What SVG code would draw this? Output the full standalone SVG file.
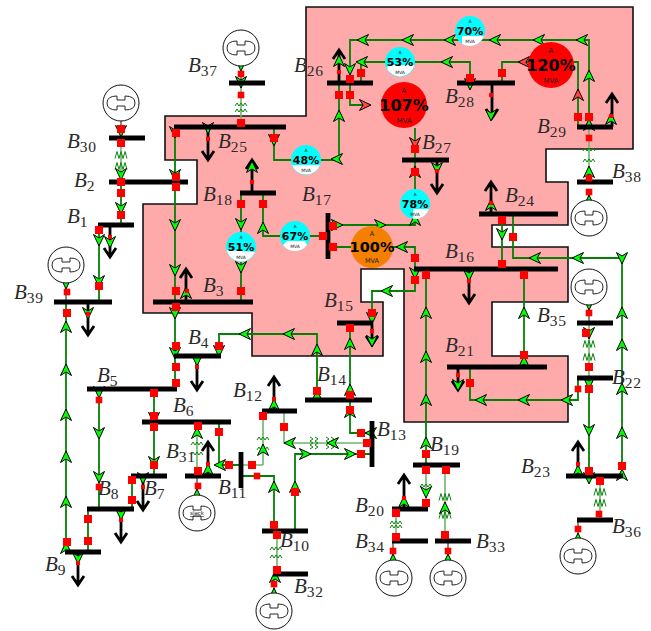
<svg xmlns="http://www.w3.org/2000/svg" width="651" height="631" viewBox="0 0 651 631">
<style>
.region{fill:#ffaaaa;stroke:#111;stroke-width:1.6}
.ln{fill:none;stroke:#058005;stroke-width:1.8}
.lt{fill:none;stroke:#6fb46f;stroke-width:1.6}
.th{fill:none;stroke:#111;stroke-width:1}
.zz{fill:none;stroke:#0a840a;stroke-width:1}
.a{fill:#0f0;stroke:#000;stroke-width:1}
.ra{fill:#f44;stroke:#000;stroke-width:1}
.sq{fill:#f00}
.load{fill:none;stroke:#000;stroke-width:2.8}
.bus{stroke:#000;stroke-width:4.8;fill:none}
.gc{fill:#fff;stroke:#111;stroke-width:1}
.gi{fill:none;stroke:#111;stroke-width:.9}
.lb{font:italic 21px "Liberation Serif",serif;fill:#2a2a2a}
.s{font-size:15.5px;font-style:normal;letter-spacing:.6px}
.p{font-family:"DejaVu Sans",sans-serif;font-weight:bold;text-anchor:middle;fill:#000}
.u{font-family:"DejaVu Sans",sans-serif;text-anchor:middle;fill:#222}
</style>
<defs>
<path id="d" d="M0,6 L-5.5,-5.5 L0,-2 L5.5,-5.5 Z"/>
<path id="u" d="M0,-6 L-5.5,5.5 L0,2 L5.5,5.5 Z"/>
<path id="l" d="M-6,0 L5.5,-5.5 L2,0 L5.5,5.5 Z"/>
<path id="r" d="M6,0 L-5.5,-5.5 L-2,0 L-5.5,5.5 Z"/>
<rect id="s" x="-4" y="-4" width="8" height="8"/>
<rect id="m" x="-3.3" y="-3.3" width="6.6" height="6.6"/>
<rect id="t" x="-2" y="-2" width="4" height="4"/>
<path id="z" d="M-6,2 l2,-3 2,3 2,-3 2,3 2,-3 2,3"/>
<path id="zt" d="M-6,3.5 l2,-7 2,7 2,-7 2,7 2,-7 2,7"/>
<path id="zv" d="M-2,-6 l3,2 -3,2 3,2 -3,2 3,2 -3,2"/>
<g id="gen"><circle class="gc" r="18"/><path class="gi" d="M-4,-7 Q-14,-7 -14,0 Q-14,7 -4,7 L-4,3 H4 L4,7 Q14,7 14,0 Q14,-7 4,-7 L4,-3 H-4 Z"/></g>
</defs>
<path id="area" class="region" d="M306,7H633V149H546V182H568V225H492V247H568V302H492V356H568V422H404V269H361V302H383V356H252V313H143V204H197V160H165V116H306Z"/>
<g id="connectors">
<path class="th" d="M241,66V83M121,121V138M66,283V302M589,192V205M589,305V323M197,476V495M274,574V594M393,541V560M448,541V560M578,520V539"/>
<path class="lt" d="M241,83V127M121,138V182M589,127V182M589,323V378M600,476V520M197,422V476M263,465V411M241,465H263M284,411V443H372M426,465V509M445,465V541M396,509V541M277,531V574"/>
<path class="ln" d="M121,182V225M99,225V302M66,302V552M175,127V356M175,356V389M274,127V160H339V83M350,83V40H589V127M361,83V62H470V83M502,83V62H578V127M350,83V105H367M415,128V190M415,218V225H328M328,247H415V269M328,236H263V193M241,193V302M219,356V334H317V400M99,389V509M154,389V476M132,476V509M88,509V552M219,422V465H241M241,476H274V531M295,531V454H372M350,323V400M350,400V433H372M415,269V291H372V323M426,269V465M524,269V367M502,214V269M513,214V258H622V476M589,378V476M578,378V400H470V367"/>
<g class="zz">
<use href="#z" x="241" y="104"/><use href="#z" x="241" y="110"/>
<use href="#zt" x="121" y="155"/><use href="#zt" x="121" y="166"/>
<use href="#z" x="589" y="149"/><use href="#z" x="589" y="160"/>
<use href="#zt" x="589" y="344"/><use href="#zt" x="589" y="357"/>
<use href="#zt" x="600" y="492"/><use href="#zt" x="600" y="503"/>
<use href="#z" x="197" y="443"/><use href="#z" x="197" y="453"/>
<use href="#z" x="263" y="438"/><use href="#z" x="263" y="448"/>
<use href="#z" x="276" y="548"/><use href="#z" x="276" y="556"/>
<use href="#z" x="426" y="485"/>
<use href="#zt" x="445" y="497"/><use href="#zt" x="445" y="515"/>
<use href="#z" x="396" y="522"/><use href="#z" x="396" y="526"/>
<use href="#zv" x="312" y="443"/><use href="#zv" x="317" y="443"/>
<use href="#zv" x="328" y="443"/><use href="#zv" x="333" y="443"/>
</g>
<path class="load" d="M110,225V257M104,248L110,257L116,248"/>
<path class="load" d="M88,302V335M82,326L88,335L94,326"/>
<path class="load" d="M208,127V160M202,151L208,160L214,151"/>
<path class="load" d="M252,193V160M246,169L252,160L258,169"/>
<path class="load" d="M186,302V269M180,278L186,269L192,278"/>
<path class="load" d="M339,83V50M333,59L339,50L345,59"/>
<path class="load" d="M492,83V118M486,109L492,118L498,109"/>
<path class="load" d="M612,127V94M606,103L612,94L618,103"/>
<path class="load" d="M437,160V193M431,184L437,193L443,184"/>
<path class="load" d="M491,214V182M485,191L491,182L497,191"/>
<path class="load" d="M469,269V303M463,294L469,303L475,294"/>
<path class="load" d="M197,356V390M191,381L197,390L203,381"/>
<path class="load" d="M143,476V510M137,501L143,510L149,501"/>
<path class="load" d="M121,509V542M115,533L121,542L127,533"/>
<path class="load" d="M78,552V585M72,576L78,585L84,576"/>
<path class="load" d="M208,476V442M202,451L208,442L214,451"/>
<path class="load" d="M274,411V377M268,386L274,377L280,386"/>
<path class="load" d="M372,323V345M366,336L372,345L378,336"/>
<path class="load" d="M458,367V390M452,381L458,390L464,381"/>
<path class="load" d="M404,509V475M398,484L404,475L410,484"/>
<path class="load" d="M578,476V442M572,451L578,442L584,451"/>
<g class="a">
<use href="#d" x="241" y="65"/><use href="#d" x="241" y="82"/>
<use href="#d" x="121" y="131"/><use href="#d" x="121" y="174"/><use href="#d" x="121" y="208"/>
<use href="#d" x="99" y="240"/><use href="#d" x="99" y="281"/><use href="#d" x="110" y="242"/>
<use href="#d" x="66" y="283"/><use href="#d" x="88" y="313"/>
<use href="#u" x="66" y="327"/><use href="#u" x="66" y="370"/><use href="#u" x="66" y="415"/><use href="#u" x="66" y="457"/><use href="#u" x="66" y="502"/><use href="#u" x="66" y="548"/>
<use href="#d" x="175" y="175"/><use href="#d" x="175" y="225"/><use href="#d" x="175" y="270"/><use href="#d" x="175" y="313"/><use href="#d" x="175" y="353"/><use href="#d" x="175" y="132"/>
<use href="#d" x="208" y="128"/>
<use href="#d" x="274" y="140"/><use href="#l" x="337" y="159"/><use href="#u" x="339" y="116"/><use href="#u" x="339" y="61"/>
<use href="#l" x="363" y="40"/><use href="#l" x="408" y="40"/><use href="#l" x="450" y="40"/><use href="#l" x="495" y="40"/><use href="#l" x="539" y="40"/><use href="#l" x="582" y="40"/>
<use href="#u" x="589" y="76"/><use href="#u" x="589" y="125"/><use href="#d" x="350" y="69"/>
<use href="#l" x="362" y="62"/><use href="#l" x="447" y="62"/><use href="#d" x="470" y="84"/>
<use href="#d" x="491" y="115"/><use href="#u" x="611" y="119"/>
<use href="#u" x="589" y="172"/><use href="#u" x="589" y="201"/>
<use href="#u" x="415" y="172"/><use href="#d" x="437" y="168"/>
<use href="#u" x="415" y="220"/><use href="#r" x="380" y="225"/><use href="#r" x="337" y="225"/>
<use href="#l" x="402" y="247"/>
<use href="#u" x="263" y="228"/><use href="#d" x="241" y="224"/><use href="#d" x="241" y="267"/>
<use href="#u" x="252" y="167"/><use href="#u" x="186" y="293"/>
<use href="#d" x="197" y="360"/>
<use href="#d" x="219" y="351"/><use href="#l" x="245" y="334"/><use href="#l" x="289" y="334"/><use href="#u" x="317" y="350"/><use href="#u" x="317" y="396"/>
<use href="#d" x="99" y="392"/><use href="#d" x="99" y="433"/><use href="#d" x="99" y="477"/>
<use href="#d" x="154" y="418"/><use href="#d" x="154" y="462"/>
<use href="#d" x="143" y="478"/><use href="#d" x="121" y="514"/><use href="#d" x="78" y="558"/>
<use href="#u" x="197" y="433"/><use href="#u" x="208" y="470"/><use href="#u" x="197" y="495"/>
<use href="#l" x="220" y="465"/><use href="#u" x="263" y="450"/><use href="#u" x="274" y="405"/>
<use href="#u" x="274" y="487"/><use href="#u" x="295" y="487"/><use href="#r" x="305" y="454"/><use href="#r" x="350" y="454"/>
<use href="#l" x="290" y="443"/><use href="#l" x="333" y="443"/>
<use href="#u" x="350" y="412"/><use href="#l" x="371" y="433"/>
<use href="#u" x="350" y="390"/><use href="#u" x="350" y="344"/>
<use href="#d" x="372" y="318"/><use href="#d" x="372" y="341"/>
<use href="#d" x="415" y="273"/><use href="#l" x="387" y="291"/>
<use href="#u" x="426" y="313"/><use href="#u" x="426" y="357"/><use href="#u" x="426" y="400"/><use href="#u" x="426" y="443"/>
<use href="#u" x="524" y="313"/><use href="#u" x="524" y="362"/>
<use href="#d" x="469" y="275"/><use href="#d" x="502" y="234"/><use href="#u" x="491" y="205"/>
<use href="#l" x="535" y="258"/><use href="#l" x="578" y="258"/><use href="#d" x="622" y="258"/>
<use href="#u" x="622" y="313"/><use href="#u" x="622" y="345"/><use href="#u" x="622" y="389"/><use href="#u" x="622" y="433"/><use href="#u" x="622" y="475"/>
<use href="#d" x="589" y="304"/><use href="#d" x="589" y="333"/><use href="#d" x="589" y="430"/><use href="#d" x="589" y="478"/><use href="#d" x="589" y="383"/>
<use href="#u" x="578" y="539"/><use href="#u" x="578" y="471"/>
<use href="#l" x="567" y="400"/><use href="#l" x="524" y="400"/><use href="#l" x="481" y="400"/>
<use href="#d" x="458" y="385"/>
<use href="#d" x="426" y="492"/><use href="#u" x="445" y="508"/>
<use href="#u" x="404" y="502"/><use href="#u" x="393" y="560"/><use href="#u" x="448" y="560"/>
<use href="#u" x="274" y="594"/><use href="#u" x="275" y="577"/>
</g>
<g class="ra">
<use href="#l" x="524" y="62"/><use href="#u" x="578" y="95"/>
<use href="#r" x="365" y="105"/><use href="#d" x="415" y="143"/>
</g>
</g>
<g id="B37"><path class="bus" d="M229,83H265"/><text class="lb" x="188" y="72">B<tspan class="s" dy="4">37</tspan></text></g>
<g id="B30"><path class="bus" d="M109,138H145"/><text class="lb" x="67" y="148">B<tspan class="s" dy="4">30</tspan></text></g>
<g id="B2"><path class="bus" d="M109,182H188"/><text class="lb" x="74" y="187">B<tspan class="s" dy="4">2</tspan></text></g>
<g id="B1"><path class="bus" d="M98,225H134"/><text class="lb" x="67" y="223">B<tspan class="s" dy="4">1</tspan></text></g>
<g id="B39"><path class="bus" d="M54,302H112"/><text class="lb" x="14" y="299">B<tspan class="s" dy="4">39</tspan></text></g>
<g id="B25"><path class="bus" d="M174,127H286"/><text class="lb" x="218" y="148">B<tspan class="s" dy="4">25</tspan></text></g>
<g id="B18"><path class="bus" d="M240,193H276"/><text class="lb" x="203" y="201">B<tspan class="s" dy="4">18</tspan></text></g>
<g id="B17"><path class="bus" d="M328,213V259"/><text class="lb" x="302" y="201">B<tspan class="s" dy="4">17</tspan></text></g>
<g id="B3"><path class="bus" d="M153,302H253"/><text class="lb" x="203" y="292">B<tspan class="s" dy="4">3</tspan></text></g>
<g id="B26"><path class="bus" d="M327,83H373"/><text class="lb" x="294" y="72">B<tspan class="s" dy="4">26</tspan></text></g>
<g id="B28"><path class="bus" d="M457,83H515"/><text class="lb" x="445" y="103">B<tspan class="s" dy="4">28</tspan></text></g>
<g id="B29"><path class="bus" d="M577,127H613"/><text class="lb" x="537" y="133">B<tspan class="s" dy="4">29</tspan></text></g>
<g id="B27"><path class="bus" d="M402,160H449"/><text class="lb" x="422" y="149">B<tspan class="s" dy="4">27</tspan></text></g>
<g id="B24"><path class="bus" d="M479,214H558"/><text class="lb" x="505" y="202">B<tspan class="s" dy="4">24</tspan></text></g>
<g id="B38"><path class="bus" d="M577,182H613"/><text class="lb" x="612" y="178">B<tspan class="s" dy="4">38</tspan></text></g>
<g id="B16"><path class="bus" d="M414,269H558"/><text class="lb" x="445" y="258">B<tspan class="s" dy="4">16</tspan></text></g>
<g id="B15"><path class="bus" d="M337,323H373"/><text class="lb" x="324" y="307">B<tspan class="s" dy="4">15</tspan></text></g>
<g id="B14"><path class="bus" d="M305,400H372"/><text class="lb" x="317" y="381">B<tspan class="s" dy="4">14</tspan></text></g>
<g id="B4"><path class="bus" d="M174,356H221"/><text class="lb" x="188" y="344">B<tspan class="s" dy="4">4</tspan></text></g>
<g id="B5"><path class="bus" d="M87,389H177"/><text class="lb" x="97" y="382">B<tspan class="s" dy="4">5</tspan></text></g>
<g id="B6"><path class="bus" d="M142,422H231"/><text class="lb" x="173" y="412">B<tspan class="s" dy="4">6</tspan></text></g>
<g id="B7"><path class="bus" d="M131,476H167"/><text class="lb" x="144" y="495">B<tspan class="s" dy="4">7</tspan></text></g>
<g id="B8"><path class="bus" d="M87,509H134"/><text class="lb" x="98" y="495">B<tspan class="s" dy="4">8</tspan></text></g>
<g id="B9"><path class="bus" d="M65,552H101"/><text class="lb" x="45" y="571">B<tspan class="s" dy="4">9</tspan></text></g>
<g id="B31"><path class="bus" d="M185,476H221"/><text class="lb" x="166" y="458">B<tspan class="s" dy="4">31</tspan></text></g>
<g id="B11"><path class="bus" d="M241,452V488"/><text class="lb" x="218" y="494">B<tspan class="s" dy="4">11</tspan></text></g>
<g id="B12"><path class="bus" d="M262,411H297"/><text class="lb" x="233" y="397">B<tspan class="s" dy="4">12</tspan></text></g>
<g id="B10"><path class="bus" d="M262,531H308"/><text class="lb" x="280" y="547">B<tspan class="s" dy="4">10</tspan></text></g>
<g id="B32"><path class="bus" d="M273,574H308"/><text class="lb" x="294" y="593">B<tspan class="s" dy="4">32</tspan></text></g>
<g id="B13"><path class="bus" d="M372,421V467"/><text class="lb" x="377" y="436">B<tspan class="s" dy="4">13</tspan></text></g>
<g id="B19"><path class="bus" d="M413,465H460"/><text class="lb" x="430" y="451">B<tspan class="s" dy="4">19</tspan></text></g>
<g id="B20"><path class="bus" d="M392,509H428"/><text class="lb" x="355" y="512">B<tspan class="s" dy="4">20</tspan></text></g>
<g id="B34"><path class="bus" d="M392,541H428"/><text class="lb" x="355" y="548">B<tspan class="s" dy="4">34</tspan></text></g>
<g id="B33"><path class="bus" d="M435,541H471"/><text class="lb" x="476" y="548">B<tspan class="s" dy="4">33</tspan></text></g>
<g id="B35"><path class="bus" d="M577,323H613"/><text class="lb" x="537" y="322">B<tspan class="s" dy="4">35</tspan></text></g>
<g id="B21"><path class="bus" d="M447,367H547"/><text class="lb" x="445" y="352">B<tspan class="s" dy="4">21</tspan></text></g>
<g id="B22"><path class="bus" d="M577,378H613"/><text class="lb" x="612" y="384">B<tspan class="s" dy="4">22</tspan></text></g>
<g id="B23"><path class="bus" d="M566,476H623"/><text class="lb" x="521" y="473">B<tspan class="s" dy="4">23</tspan></text></g>
<g id="B36"><path class="bus" d="M577,520H613"/><text class="lb" x="612" y="533">B<tspan class="s" dy="4">36</tspan></text></g>
<g id="G37" transform="translate(241,48)"><use href="#gen"/></g>
<g id="G30" transform="translate(121,103)"><use href="#gen"/></g>
<g id="G39" transform="translate(66,265)"><use href="#gen"/></g>
<g id="G38" transform="translate(589,218)"><use href="#gen"/></g>
<g id="G35" transform="translate(589,287)"><use href="#gen"/></g>
<g id="G31" transform="translate(197,513)"><use href="#gen"/><text class="u" y="2" font-size="5.5" text-decoration="underline">slack</text></g>
<g id="G32" transform="translate(274,611)"><use href="#gen"/></g>
<g id="G34" transform="translate(394,578)"><use href="#gen"/></g>
<g id="G33" transform="translate(448,578)"><use href="#gen"/></g>
<g id="G36" transform="translate(578,556)"><use href="#gen"/></g>
<g id="F48" transform="translate(306,160)"><circle r="15" fill="#0ff"/><path d="M14,5 A15,15 0 0 1 -14,5 Z" fill="#fff"/><text class="u" y="-8" font-size="4.5">A</text><text class="p" y="4" font-size="11">48%</text><text class="u" y="12" font-size="4.5">MVA</text></g>
<g id="F51" transform="translate(241,247)"><circle r="15" fill="#0ff"/><path d="M14,5 A15,15 0 0 1 -14.5,3 Z" fill="#fff"/><text class="u" y="-8" font-size="4.5">A</text><text class="p" y="4" font-size="11">51%</text><text class="u" y="12" font-size="4.5">MVA</text></g>
<g id="F67" transform="translate(295,236)"><circle r="15" fill="#0ff"/><path d="M12,9 A15,15 0 0 1 -12,9 L-8,5 L10,5 Z" fill="#fff"/><text class="u" y="-8" font-size="4.5">A</text><text class="p" y="4" font-size="11">67%</text><text class="u" y="12" font-size="4.5">MVA</text></g>
<g id="F53" transform="translate(400,62)"><circle r="15" fill="#0ff"/><path d="M14.5,3 A15,15 0 0 1 -13,7 L-12,3 Z" fill="#fff"/><text class="u" y="-8" font-size="4.5">A</text><text class="p" y="4" font-size="11">53%</text><text class="u" y="12" font-size="4.5">MVA</text></g>
<g id="F70" transform="translate(470,31)"><circle r="15" fill="#0ff"/><path d="M14,5 A15,15 0 0 1 -8,12.7 L-8,5 Z" fill="#fff"/><text class="u" y="-8" font-size="4.5">A</text><text class="p" y="4" font-size="11">70%</text><text class="u" y="12" font-size="4.5">MVA</text></g>
<g id="F78" transform="translate(415,204)"><circle r="15" fill="#0ff"/><path d="M14,5 A15,15 0 0 1 -2,14.8 L-2,5 Z" fill="#fff"/><text class="u" y="-8" font-size="4.5">A</text><text class="p" y="4" font-size="11">78%</text><text class="u" y="12" font-size="4.5">MVA</text></g>
<g id="F100" transform="translate(372,247)"><circle r="21" fill="#f58000"/><text class="u" y="-11" font-size="6.5">A</text><text class="p" y="5" font-size="14.5">100%</text><text class="u" y="16" font-size="6.5">MVA</text></g>
<g id="F107" transform="translate(404,105)"><circle r="23" fill="#f00"/><text class="u" y="-12" font-size="7">A</text><text class="p" y="6" font-size="16">107%</text><text class="u" y="18" font-size="7">MVA</text></g>
<g id="F120" transform="translate(551,65)"><circle r="23" fill="#f00"/><text class="u" y="-12" font-size="7">A</text><text class="p" y="6" font-size="16">120%</text><text class="u" y="18" font-size="7">MVA</text></g>
<g id="markers" class="sq">
<use href="#m" x="241" y="74"/><use href="#m" x="241" y="95"/><use href="#s" x="241" y="123"/>
<use href="#s" x="121" y="129"/><use href="#s" x="121" y="143"/><use href="#s" x="121" y="182"/><use href="#s" x="121" y="193"/><use href="#s" x="121" y="215"/>
<use href="#s" x="99" y="230"/><use href="#s" x="99" y="286"/><use href="#t" x="110" y="237"/>
<use href="#m" x="67" y="292"/><use href="#s" x="67" y="313"/><use href="#t" x="88" y="314"/><use href="#s" x="67" y="542"/>
<use href="#s" x="176" y="133"/><use href="#s" x="176" y="177"/><use href="#s" x="176" y="187"/><use href="#s" x="176" y="291"/><use href="#s" x="176" y="307"/><use href="#s" x="176" y="346"/><use href="#s" x="176" y="367"/><use href="#s" x="176" y="383"/>
<use href="#t" x="208" y="139"/><use href="#s" x="274" y="138"/>
<use href="#s" x="339" y="95"/><use href="#t" x="339" y="72"/><use href="#s" x="350" y="79"/><use href="#s" x="361" y="73"/><use href="#s" x="470" y="78"/><use href="#s" x="502" y="73"/>
<use href="#s" x="578" y="117"/><use href="#s" x="589" y="117"/><use href="#t" x="611" y="116"/><use href="#t" x="491" y="95"/>
<use href="#s" x="350" y="95"/><use href="#s" x="415" y="149"/><use href="#s" x="415" y="172"/><use href="#t" x="437" y="171"/>
<use href="#m" x="589" y="138"/><use href="#m" x="589" y="178"/><use href="#m" x="589" y="192"/>
<use href="#s" x="333" y="226"/><use href="#s" x="333" y="247"/><use href="#s" x="323" y="236"/><use href="#s" x="415" y="258"/><use href="#s" x="415" y="280"/>
<use href="#s" x="263" y="204"/><use href="#s" x="241" y="204"/><use href="#s" x="241" y="291"/><use href="#t" x="252" y="182"/><use href="#t" x="187" y="291"/>
<use href="#t" x="197" y="367"/><use href="#s" x="219" y="346"/><use href="#s" x="317" y="391"/>
<use href="#m" x="99" y="400"/><use href="#m" x="99" y="487"/><use href="#s" x="154" y="393"/><use href="#s" x="154" y="416"/><use href="#s" x="154" y="427"/><use href="#s" x="154" y="465"/>
<use href="#s" x="132" y="480"/><use href="#s" x="132" y="500"/><use href="#t" x="143" y="487"/><use href="#t" x="121" y="520"/><use href="#s" x="88" y="519"/><use href="#s" x="88" y="541"/><use href="#t" x="78" y="563"/>
<use href="#s" x="198" y="426"/><use href="#s" x="198" y="471"/><use href="#t" x="208" y="464"/><use href="#m" x="198" y="486"/>
<use href="#s" x="219" y="432"/><use href="#s" x="229" y="465"/><use href="#s" x="252" y="465"/><use href="#s" x="263" y="416"/><use href="#t" x="274" y="399"/>
<use href="#m" x="257" y="476"/><use href="#s" x="274" y="525"/><use href="#s" x="295" y="492"/><use href="#s" x="361" y="454"/>
<use href="#s" x="284" y="427"/><use href="#s" x="367" y="443"/><use href="#s" x="350" y="410"/><use href="#s" x="361" y="433"/><use href="#s" x="350" y="395"/><use href="#s" x="350" y="328"/>
<use href="#t" x="372" y="331"/><use href="#s" x="372" y="313"/>
<use href="#s" x="426" y="275"/><use href="#s" x="426" y="454"/><use href="#s" x="524" y="275"/><use href="#s" x="524" y="355"/>
<use href="#t" x="469" y="281"/><use href="#s" x="502" y="220"/><use href="#s" x="502" y="264"/><use href="#t" x="491" y="203"/><use href="#s" x="513" y="237"/>
<use href="#s" x="622" y="466"/><use href="#m" x="589" y="313"/><use href="#s" x="586" y="333"/><use href="#s" x="589" y="367"/>
<use href="#s" x="589" y="389"/><use href="#s" x="589" y="471"/><use href="#s" x="600" y="481"/><use href="#m" x="599" y="514"/><use href="#m" x="578" y="529"/><use href="#t" x="578" y="464"/>
<use href="#m" x="578" y="389"/><use href="#s" x="470" y="383"/><use href="#t" x="458" y="375"/>
<use href="#s" x="426" y="470"/><use href="#s" x="426" y="503"/><use href="#s" x="446" y="470"/><use href="#s" x="445" y="535"/>
<use href="#t" x="404" y="498"/><use href="#s" x="396" y="513"/><use href="#s" x="396" y="537"/><use href="#m" x="393" y="551"/><use href="#m" x="448" y="551"/>
<use href="#m" x="274" y="584"/><use href="#s" x="277" y="535"/><use href="#s" x="277" y="570"/>
</g>
</svg>
